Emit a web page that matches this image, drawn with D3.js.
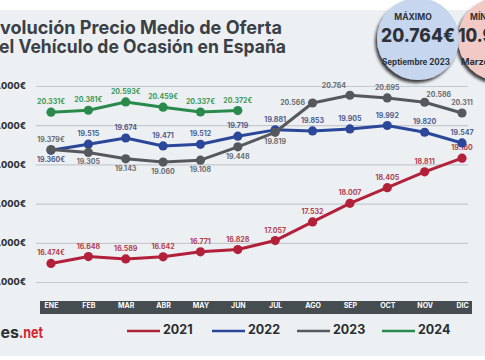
<!DOCTYPE html>
<html>
<head>
<meta charset="utf-8">
<script src="https://cdn.jsdelivr.net/npm/d3@7/dist/d3.min.js"></script>
<style>
  html, body { margin: 0; padding: 0; background: #ffffff; }
  svg { display: block; font-family: "Inter", "Open Sans", sans-serif; }
</style>
</head>
<body>
<svg id="chart" width="485" height="360"></svg>
<script>
// ---- data ----
const months = ["ENE","FEB","MAR","ABR","MAY","JUN","JUL","AGO","SEP","OCT","NOV","DIC"];
const years = ["2021","2022","2023","2024"];
const values2021 = [16474,16648,16589,16642,16771,16828,17057,17532,18007,18405,18811,19160];
const values2022 = [19360,19515,19674,19471,19512,19719,19881,19853,19905,19992,19820,19547];
const values2023 = [19379,19305,19143,19060,19108,19448,19819,20566,20764,20695,20586,20311];
const values2024 = [20331,20381,20593,20459,20337,20372];
const yTicks = [16000,17000,18000,19000,20000,21000];
// label placement per point: a = above, b = below, l = left, al = above-left, ar = above-right
const place2021 = ["a","a","a","a","a","a","a","a","a","a","a","a"];
const place2022 = ["b","a","a","a","a","a","a","a","a","a","a","a"];
const place2023 = ["a","b","b","b","b","b","b","l","al","a","ar","a"];
const place2024 = ["a","a","a","a","a","a"];
// euro sign shown on these labels
const euro2021 = [true,false,false,false,false,false,false,false,false,false,false,false];
const euro2022 = [true,false,false,false,false,false,false,false,false,false,false,false];
const euro2023 = [true,false,false,false,false,false,false,false,false,false,false,false];
const euro2024 = [true,true,true,true,true,true];

const series = [
  {year:"2021", values: values2021, place: place2021, euro: euro2021, color:"#b3203a", label:"#b2404f"},
  {year:"2022", values: values2022, place: place2022, euro: euro2022, color:"#2b479a", label:"#4d5d8e"},
  {year:"2023", values: values2023, place: place2023, euro: euro2023, color:"#55595d", label:"#6a6e72"},
  {year:"2024", values: values2024, place: place2024, euro: euro2024, color:"#2a8a4c", label:"#3a9859"}
];

const W = 485, H = 360;
const svg = d3.select("#chart");
const loc = d3.formatLocale({decimal: ",", thousands: ".", grouping: [3], currency: ["", "€"]});
const fmt = loc.format(",");

// background
svg.append("rect").attr("x",0).attr("y",0).attr("width",W).attr("height",H).attr("fill","#ffffff");
svg.append("rect").attr("x",0).attr("y",10).attr("width",W).attr("height",346).attr("fill","#edf0f3");

// defs
const defs = svg.append("defs");
const f = defs.append("filter").attr("id","sh").attr("x","-30%").attr("y","-30%").attr("width","160%").attr("height","160%");
f.append("feDropShadow").attr("dx",-2).attr("dy",3).attr("stdDeviation",1.6).attr("flood-color","#000").attr("flood-opacity",0.75);

// title
const title = svg.append("g").attr("fill","#3b4046").attr("font-weight",700).attr("font-size",18.5);
title.append("text").attr("x",-11).attr("y",34).attr("textLength",293).attr("lengthAdjust","spacingAndGlyphs").text("Evolución Precio Medio de Oferta");
title.append("text").attr("x",-12).attr("y",53).attr("textLength",298).attr("lengthAdjust","spacingAndGlyphs").text("del Vehículo de Ocasión en España");

// badges
const minG = svg.append("g").attr("fill","#2d3238");
minG.append("circle").attr("cx",500).attr("cy",39).attr("r",42).attr("fill","#f3c9c6").attr("filter","url(#sh)");
minG.append("text").attr("x",470).attr("y",20).attr("font-size",8.5).attr("font-weight",700).text("MÍNIMO");
minG.append("text").attr("x",458).attr("y",42).attr("font-size",18.5).attr("font-weight",800).attr("textLength",66).attr("lengthAdjust","spacingAndGlyphs").text("10.961€");
minG.append("text").attr("x",461).attr("y",65).attr("font-size",9).attr("font-weight",700).attr("textLength",52).attr("lengthAdjust","spacingAndGlyphs").text("Marzo 2015");

const maxG = svg.append("g").attr("text-anchor","middle").attr("fill","#2d3238");
maxG.append("circle").attr("cx",418).attr("cy",39).attr("r",41).attr("fill","#c6d6ee").attr("filter","url(#sh)");
maxG.append("text").attr("x",413).attr("y",20).attr("font-size",8.5).attr("font-weight",700).text("MÁXIMO");
maxG.append("text").attr("x",418).attr("y",42).attr("font-size",18.5).attr("font-weight",800).attr("textLength",74).attr("lengthAdjust","spacingAndGlyphs").text("20.764€");
maxG.append("text").attr("x",416).attr("y",65).attr("font-size",8.5).attr("font-weight",700).attr("textLength",68).attr("lengthAdjust","spacingAndGlyphs").text("Septiembre 2023");

// scales
const x = d3.scalePoint().domain(months).range([51, 462]);
const y = d3.scaleLinear().domain([16000, 21000]).range([282, 86]);

// y axis with gridlines
const yAxis = d3.axisLeft(y).tickValues(yTicks).tickSize(-432).tickPadding(10).tickFormat(d => fmt(d) + "€");
const yg = svg.append("g").attr("transform","translate(36,0)").call(yAxis);
yg.select(".domain").remove();
yg.selectAll(".tick line").attr("stroke","#c6cacf").attr("stroke-width",1.2);
yg.selectAll(".tick text").attr("fill","#2f3337").attr("font-size",9).attr("font-weight",800).attr("font-family","Inter, sans-serif");

// x band
svg.append("rect").attr("x",40).attr("y",301).attr("width",432).attr("height",13).attr("fill","#454d51");
const xAxis = d3.axisBottom(x).tickSize(0).tickPadding(0);
const xg = svg.append("g").attr("transform","translate(0,305)").call(xAxis);
xg.select(".domain").remove();
xg.selectAll(".tick text").attr("fill","#ffffff").attr("font-size",7).attr("font-weight",700).attr("font-family","Inter, sans-serif").attr("dy","0.45em");

// lines, points, labels
const line = d3.line().x((d,i) => x(months[i])).y(d => y(d));
series.forEach(s => {
  const g = svg.append("g");
  g.append("path").datum(s.values).attr("d", line).attr("fill","none").attr("stroke", s.color).attr("stroke-width",3).attr("stroke-linejoin","round");
  g.selectAll("circle").data(s.values).join("circle")
    .attr("cx",(d,i) => x(months[i])).attr("cy", d => y(d)).attr("r",4.6).attr("fill", s.color);
  g.selectAll("text").data(s.values).join("text")
    .attr("x",(d,i) => {
      const p = s.place[i], cx = x(months[i]);
      if (p === "al") return cx - 16;
      if (p === "ar") return cx + 14;
      if (p === "l") return cx - 20;
      return cx;
    })
    .attr("y",(d,i) => {
      const p = s.place[i], cy = y(d);
      if (p === "b") return cy + 12;
      if (p === "l") return cy + 2;
      if (p === "al") return cy - 7;
      if (p === "ar") return cy - 5;
      return cy - 8;
    })
    .attr("text-anchor","middle").attr("font-size",7).attr("font-weight",700).attr("fill", s.label)
    .text((d,i) => fmt(d) + (s.euro[i] ? "€" : ""));
});

// logo
svg.append("text").attr("x",19).attr("y",338).attr("text-anchor","end").attr("font-size",16).attr("font-weight",700)
  .attr("fill","#2c3136").text("coches");
svg.append("text").attr("x",19).attr("y",338).attr("font-size",16).attr("font-weight",700)
  .attr("fill","#d3262d").attr("textLength",24).attr("lengthAdjust","spacingAndGlyphs").text(".net");

// legend
const lg = svg.append("g");
const legendX = d3.scalePoint().domain(years).range([127, 382]);
years.forEach((yr, i) => {
  const s = series[i];
  lg.append("line").attr("x1", legendX(yr)).attr("x2", legendX(yr) + 33).attr("y1",331).attr("y2",331).attr("stroke", s.color).attr("stroke-width",2.5);
  lg.append("text").attr("x", legendX(yr) + 36).attr("y",334).attr("font-size",12.5).attr("font-weight",700).attr("fill","#2a2d31").text(yr);
});
</script>
</body>
</html>
